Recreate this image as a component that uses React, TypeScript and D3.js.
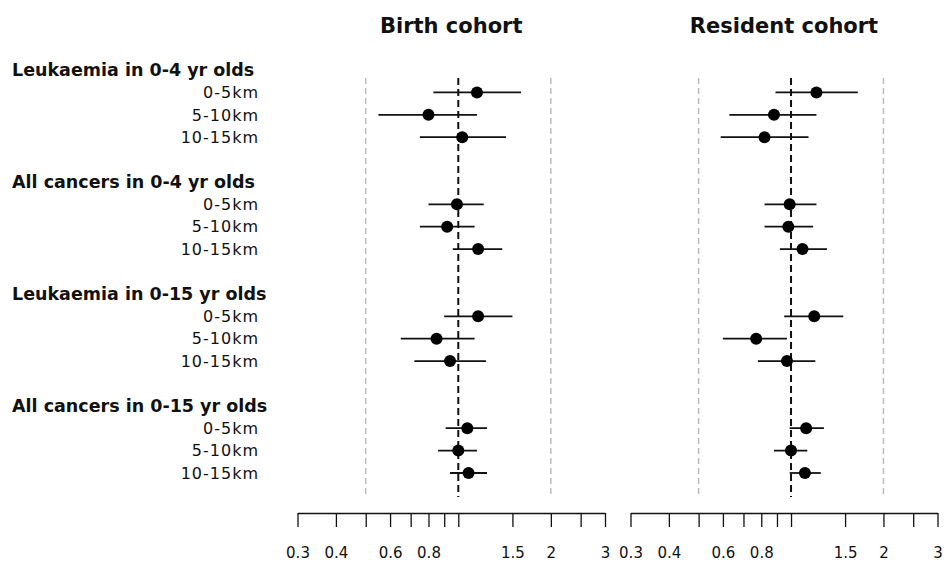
import { useEffect, useRef } from 'react';
import * as d3 from 'd3';

const groups = [
  'Leukaemia in 0-4 yr olds',
  'All cancers in 0-4 yr olds',
  'Leukaemia in 0-15 yr olds',
  'All cancers in 0-15 yr olds',
];
const distances = ['0-5km', '5-10km', '10-15km'];
const panels = ['Birth cohort', 'Resident cohort'];

// rows in order: group 1 (0-5, 5-10, 10-15), group 2 ...
const birthEst = [1.15, 0.80, 1.03, 0.99, 0.92, 1.16, 1.16, 0.85, 0.94, 1.07, 1.00, 1.08];
const birthLo = [0.83, 0.55, 0.75, 0.80, 0.75, 0.96, 0.90, 0.65, 0.72, 0.91, 0.86, 0.94];
const birthHi = [1.60, 1.15, 1.43, 1.21, 1.13, 1.39, 1.50, 1.13, 1.23, 1.24, 1.15, 1.24];

const residentEst = [1.21, 0.88, 0.82, 0.99, 0.98, 1.09, 1.19, 0.77, 0.97, 1.12, 1.00, 1.11];
const residentLo = [0.89, 0.63, 0.59, 0.82, 0.82, 0.92, 0.95, 0.60, 0.78, 0.99, 0.88, 0.99];
const residentHi = [1.65, 1.21, 1.14, 1.21, 1.18, 1.31, 1.48, 0.97, 1.20, 1.28, 1.13, 1.25];

const tickValues = [0.3, 0.4, 0.5, 0.6, 0.7, 0.8, 0.9, 1, 1.5, 2, 2.5, 3];
const tickLabels = [0.3, 0.4, 0.6, 0.8, 1.5, 2, 3];
const refLines = [0.5, 2];

function App() {
  const svgRef = useRef<SVGSVGElement>(null);

  useEffect(() => {
    const w = 944;
    const h = 565;
    const svg = d3.select(svgRef.current).attr('width', w).attr('height', h);
    svg.selectAll('*').remove();

    // row positions: header, 3 rows, blank gap
    const yRow = d3.scaleLinear().domain([0, 18]).range([70, 473]);
    const font = 'DejaVu Sans, sans-serif';

    // left labels
    groups.forEach((g, gi) => {
      svg.append('text')
        .attr('x', 12)
        .attr('y', yRow(gi * 5))
        .attr('dy', '0.36em')
        .attr('font-family', font)
        .attr('font-weight', 'bold')
        .attr('font-size', '17.5px')
        .attr('fill', '#111')
        .text(g);
      distances.forEach((d, di) => {
        svg.append('text')
          .attr('x', 259)
          .attr('y', yRow(gi * 5 + di + 1))
          .attr('dy', '0.36em')
          .attr('text-anchor', 'end')
          .attr('font-family', font)
          .attr('font-size', '16px')
          .attr('letter-spacing', '1px')
          .attr('fill', '#111')
          .text(d);
      });
    });

    const est = [birthEst, residentEst];
    const lo = [birthLo, residentLo];
    const hi = [birthHi, residentHi];
    const ranges = [[297.5, 605], [630.5, 937.5]];

    panels.forEach((p, pi) => {
      const x = d3.scaleLog().domain([0.3, 3]).range(ranges[pi]);
      const g = svg.append('g');

      g.append('text')
        .attr('x', (ranges[pi][0] + ranges[pi][1]) / 2)
        .attr('y', 33)
        .attr('text-anchor', 'middle')
        .attr('font-family', font)
        .attr('font-weight', 'bold')
        .attr('font-size', '21px')
        .attr('fill', '#111')
        .text(p);

      // reference lines
      g.selectAll('.ref').data(refLines).enter()
        .append('line')
        .attr('x1', d => x(d)).attr('x2', d => x(d))
        .attr('y1', 78).attr('y2', 497)
        .attr('stroke', '#bbbbbb')
        .attr('stroke-width', 1.5)
        .attr('stroke-dasharray', '6,4');

      g.append('line')
        .attr('x1', x(1)).attr('x2', x(1))
        .attr('y1', 78).attr('y2', 497)
        .attr('stroke', '#111')
        .attr('stroke-width', 2)
        .attr('stroke-dasharray', '7,4');

      const rows = est[pi].map((e, i) => ({
        e, l: lo[pi][i], u: hi[pi][i],
        row: Math.floor(i / 3) * 5 + (i % 3) + 1,
      }));

      g.selectAll('.ci').data(rows).enter()
        .append('line')
        .attr('x1', d => x(d.l)).attr('x2', d => x(d.u))
        .attr('y1', d => yRow(d.row)).attr('y2', d => yRow(d.row))
        .attr('stroke', '#111')
        .attr('stroke-width', 1.8);

      g.selectAll('.pt').data(rows).enter()
        .append('circle')
        .attr('cx', d => x(d.e))
        .attr('cy', d => yRow(d.row))
        .attr('r', 6)
        .attr('fill', '#000');

      // axis
      const axis = g.append('g')
        .attr('transform', 'translate(0,513)')
        .call(d3.axisBottom(x)
          .tickValues(tickValues)
          .tickSize(14)
          .tickSizeOuter(0)
          .tickPadding(20)
          .tickFormat(d => (tickLabels.includes(+d) ? String(d) : '')));
      axis.select('.domain').attr('stroke', '#111').attr('stroke-width', 1.3);
      axis.selectAll('.tick line').attr('stroke', '#111').attr('stroke-width', 1.3);
      axis.selectAll('.tick text')
        .attr('font-family', font)
        .attr('font-size', '15px')
        .attr('fill', '#111');
    });
  }, []);

  return (
    <div>
      <svg ref={svgRef} style={{ position: 'absolute', left: 0, top: 0, background: '#fff' }}></svg>
    </div>
  );
}

export default App;
